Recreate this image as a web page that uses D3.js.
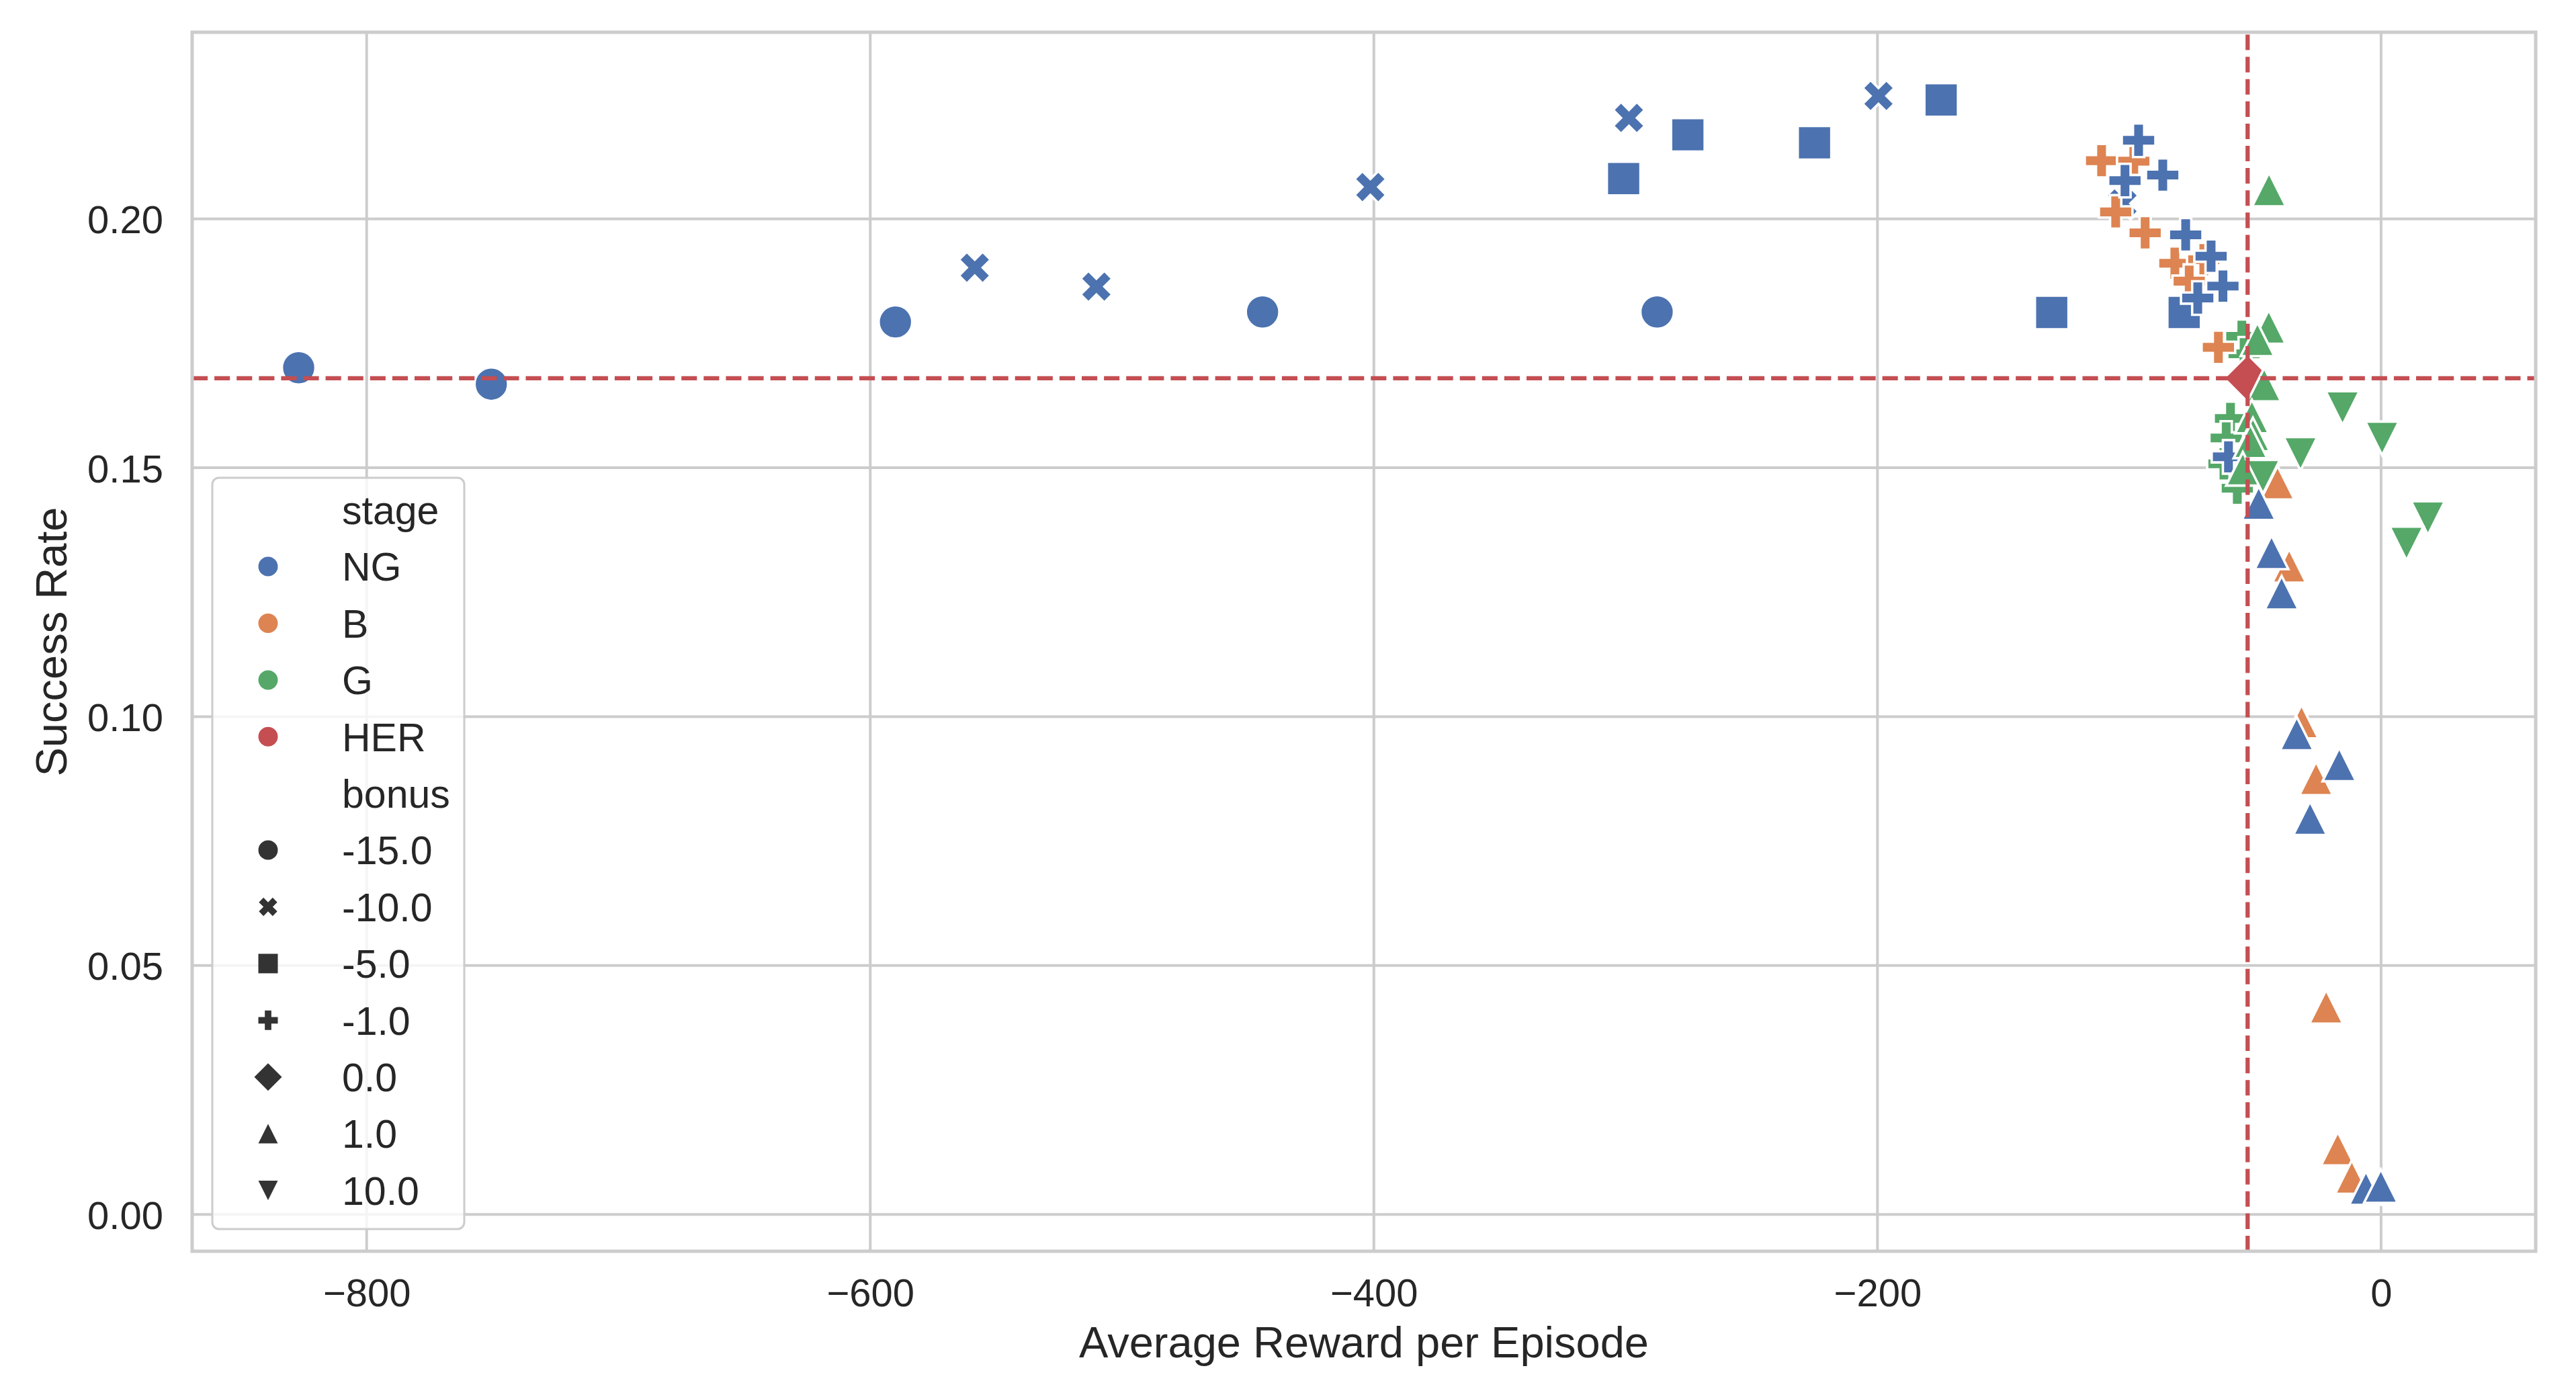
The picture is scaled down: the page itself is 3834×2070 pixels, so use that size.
<!DOCTYPE html>
<html>
<head>
<meta charset="utf-8">
<script src="https://cdn.jsdelivr.net/npm/d3@7"></script>
<style>
  html, body { margin: 0; padding: 0; background: #ffffff; }
  svg { display: block; }
  text { font-family: "Liberation Sans", Arial, "DejaVu Sans", sans-serif; fill: #262626; }
</style>
</head>
<body>
<div id="chart"></div>
<script>
// ---------------- data ----------------
const stages = ["NG", "B", "G", "HER"];
const stageColors = ["#4c72b0", "#dd8452", "#55a868", "#c44e52"];
const bonusLevels = [-15, -10, -5, -1, 0, 1, 10];
const bonusLabels = ["-15.0", "-10.0", "-5.0", "-1.0", "0.0", "1.0", "10.0"];
const bonusMarkers = ["circle", "x", "square", "plus", "diamond", "triUp", "triDown"];

// [average reward per episode, success rate, bonus]
const ngPoints = [
  [-827, 0.1701, -15], [-750.5, 0.1668, -15], [-590, 0.1793, -15], [-444.2, 0.1813, -15], [-287.5, 0.1813, -15],
  [-558.5, 0.1902, -10], [-510.2, 0.1864, -10], [-401.4, 0.2064, -10], [-298.7, 0.2203, -10], [-199.6, 0.2247, -10], [-102.7, 0.2031, -10],
  [-300.8, 0.2081, -5], [-275.3, 0.2169, -5], [-225, 0.2153, -5], [-174.7, 0.2239, -5], [-130.8, 0.1812, -5], [-78.2, 0.1812, -5],
  [-96.3, 0.2158, -1], [-101.7, 0.2077, -1], [-86.7, 0.2088, -1], [-77.6, 0.1968, -1], [-67.5, 0.1925, -1], [-62.8, 0.1865, -1], [-72.8, 0.1841, -1], [-60.6, 0.1522, -1],
  [-48.6, 0.1429, 1], [-43.5, 0.1330, 1], [-39.5, 0.1249, 1], [-33.5, 0.0966, 1], [-16.6, 0.0904, 1], [-28.2, 0.0796, 1], [-6.0, 0.0053, 1], [-0.1, 0.0057, 1]
];
const bPoints = [
  [-111, 0.2117, -1], [-98.2, 0.2116, -1], [-105.4, 0.2014, -1], [-93.7, 0.1972, -1], [-81.9, 0.1911, -1], [-70.4, 0.1918, -1], [-76.2, 0.1875, -1], [-64.6, 0.1742, -1],
  [-41.1, 0.1470, 1], [-36.5, 0.1303, 1], [-31.6, 0.0990, 1], [-25.8, 0.0876, 1], [-21.8, 0.0417, 1], [-17.2, 0.0132, 1], [-11.6, 0.0075, 1]
];
const gPoints = [
  [-55.3, 0.1764, -1], [-54.4, 0.1729, -1], [-59.8, 0.1599, -1], [-61.5, 0.1560, -1], [-62.4, 0.1508, -1], [-57.1, 0.1459, -1],
  [-44.5, 0.2059, 1], [-44.6, 0.1783, 1], [-49.1, 0.1758, 1], [-46.4, 0.1667, 1], [-51.3, 0.1603, 1], [-50.9, 0.1567, 1], [-51.9, 0.1553, 1], [-54.9, 0.1498, 1],
  [-15.3, 0.1620, 10], [0.4, 0.1559, 10], [-32.0, 0.1528, 10], [-46.9, 0.1482, 10], [18.6, 0.1399, 10], [10.1, 0.1348, 10]
];
const herPoints = [[-53, 0.168, 0]];

const xTicks = [-800, -600, -400, -200, 0];
const yTicks = [0.00, 0.05, 0.10, 0.15, 0.20];
const xLimits = [-869.3, 61.4];
const yLimits = [-0.0074, 0.2375];
const xTitle = "Average Reward per Episode";
const yTitle = "Success Rate";

// ---------------- layout ----------------
const W = 3834, H = 2070;
const plot = { left: 286, right: 3774, top: 48, bottom: 1862 };
const TICK_FONT = 58, LABEL_FONT = 65, LEGEND_FONT = 59;
const MS = 50;          // marker size (px)
const EDGE = 3.6;       // white marker edge

const svg = d3.select("#chart").append("svg")
  .attr("width", W).attr("height", H).attr("viewBox", `0 0 ${W} ${H}`);
svg.append("rect").attr("width", W).attr("height", H).attr("fill", "#ffffff");

const x = d3.scaleLinear().domain(xLimits).range([plot.left, plot.right]);
const y = d3.scaleLinear().domain(yLimits).range([plot.bottom, plot.top]);

// marker shapes
function markerPath(kind, ms) {
  const p = d3.path();
  const h = ms / 2;
  const poly = pts => { p.moveTo(pts[0][0], pts[0][1]); pts.slice(1).forEach(q => p.lineTo(q[0], q[1])); p.closePath(); };
  const plusPts = [[-1,-3],[1,-3],[1,-1],[3,-1],[3,1],[1,1],[1,3],[-1,3],[-1,1],[-3,1],[-3,-1],[-1,-1]].map(q => [q[0]*ms/6, q[1]*ms/6]);
  switch (kind) {
    case "circle": p.moveTo(h, 0); p.arc(0, 0, h, 0, 2 * Math.PI); p.closePath(); break;
    case "square": poly([[-h,-h],[h,-h],[h,h],[-h,h]]); break;
    case "plus": poly(plusPts); break;
    case "x": {
      const c = Math.SQRT1_2;
      poly(plusPts.map(q => [(q[0] - q[1]) * c, (q[0] + q[1]) * c]));
      break;
    }
    case "diamond": { const d = ms * Math.SQRT1_2; poly([[0,-d],[d,0],[0,d],[-d,0]]); break; }
    case "triUp": poly([[0,-h],[-h,h],[h,h]]); break;
    case "triDown": poly([[0,h],[-h,-h],[h,-h]]); break;
  }
  return p.toString();
}

// grid
const grid = svg.append("g");
grid.selectAll("line.gx").data(xTicks).join("line")
  .attr("x1", d => x(d)).attr("x2", d => x(d))
  .attr("y1", plot.top).attr("y2", plot.bottom)
  .attr("stroke", "#cccccc").attr("stroke-width", 4);
grid.selectAll("line.gy").data(yTicks).join("line")
  .attr("y1", d => y(d)).attr("y2", d => y(d))
  .attr("x1", plot.left).attr("x2", plot.right)
  .attr("stroke", "#cccccc").attr("stroke-width", 4);

// points (drawn by bonus, then stage order G, B, NG, HER)
const all = [];
[[gPoints, 2], [bPoints, 1], [ngPoints, 0], [herPoints, 3]].forEach(([arr, si]) => {
  arr.forEach((d, i) => all.push({ rx: d[0], sr: d[1], bonus: d[2], stage: si, idx: i }));
});
const stageDrawOrder = [2, 1, 0, 3];
all.sort((a, b) => (bonusLevels.indexOf(a.bonus) - bonusLevels.indexOf(b.bonus))
  || (stageDrawOrder.indexOf(a.stage) - stageDrawOrder.indexOf(b.stage)) || (a.idx - b.idx));

svg.append("g").selectAll("path").data(all).join("path")
  .attr("transform", d => `translate(${x(d.rx)},${y(d.sr)})`)
  .attr("d", d => markerPath(bonusMarkers[bonusLevels.indexOf(d.bonus)], MS))
  .attr("fill", d => stageColors[d.stage])
  .attr("stroke", "#ffffff").attr("stroke-width", EDGE)
  .attr("stroke-linejoin", "miter");

// reference lines at HER result
const ref = svg.append("g");
ref.selectAll("line.v").data(herPoints).join("line")
  .attr("x1", d => x(d[0])).attr("x2", d => x(d[0]))
  .attr("y1", plot.bottom).attr("y2", plot.top)
  .attr("stroke", stageColors[3]).attr("stroke-width", 6.25)
  .attr("stroke-dasharray", "23.1,10");
ref.selectAll("line.h").data(herPoints).join("line")
  .attr("y1", d => y(d[1])).attr("y2", d => y(d[1]))
  .attr("x1", plot.left).attr("x2", plot.right)
  .attr("stroke", stageColors[3]).attr("stroke-width", 6.25)
  .attr("stroke-dasharray", "23.1,10");

// spines
svg.append("rect")
  .attr("x", plot.left).attr("y", plot.top)
  .attr("width", plot.right - plot.left).attr("height", plot.bottom - plot.top)
  .attr("fill", "none").attr("stroke", "#cccccc").attr("stroke-width", 5);

// axes
const fmtX = d => (d < 0 ? "\u2212" : "") + Math.abs(d);
const fmtY = d => d3.format(".2f")(d);
const gx = svg.append("g").attr("transform", `translate(0,${plot.bottom})`)
  .call(d3.axisBottom(x).tickValues(xTicks).tickSize(0).tickFormat(fmtX));
gx.select(".domain").remove();
gx.selectAll("text").attr("y", 82).attr("dy", null)
  .style("font-size", TICK_FONT + "px").attr("fill", "#262626")
  .style("font-family", '"Liberation Sans", Arial, sans-serif');

const gy = svg.append("g").attr("transform", `translate(${plot.left},0)`)
  .call(d3.axisLeft(y).tickValues(yTicks).tickSize(0).tickFormat(fmtY));
gy.select(".domain").remove();
gy.selectAll("text").attr("x", -43).attr("dy", "0.36em")
  .style("font-size", TICK_FONT + "px").attr("fill", "#262626")
  .style("font-family", '"Liberation Sans", Arial, sans-serif');

// axis titles
svg.append("text").attr("x", (plot.left + plot.right) / 2).attr("y", 2020)
  .attr("text-anchor", "middle").style("font-size", LABEL_FONT + "px").text(xTitle);
svg.append("text").attr("transform", `translate(99,${(plot.top + plot.bottom) / 2}) rotate(-90)`)
  .attr("text-anchor", "middle").style("font-size", LABEL_FONT + "px").text(yTitle);

// legend
const legend = svg.append("g");
legend.append("rect").attr("x", 316).attr("y", 711).attr("width", 375).attr("height", 1118)
  .attr("rx", 10).attr("ry", 10)
  .attr("fill", "#ffffff").attr("fill-opacity", 0.8)
  .attr("stroke", "#cccccc").attr("stroke-width", 3);

const legendRows = [];
legendRows.push({ label: "stage", marker: null });
stages.forEach((s, i) => legendRows.push({ label: s, marker: "circle", color: stageColors[i] }));
legendRows.push({ label: "bonus", marker: null });
bonusLabels.forEach((b, i) => legendRows.push({ label: b, marker: bonusMarkers[i], color: "#333333" }));

const rowY = i => 758.7 + i * 84.4;
const lr = legend.selectAll("g.row").data(legendRows).join("g")
  .attr("transform", (d, i) => `translate(0,${rowY(i)})`);
lr.filter(d => d.marker).append("path")
  .attr("transform", "translate(399,0)")
  .attr("d", d => markerPath(d.marker, 29))
  .attr("fill", d => d.color);
lr.append("text").attr("x", 509).attr("dy", "0.36em")
  .style("font-size", LEGEND_FONT + "px")
  .text(d => d.label);
</script>
</body>
</html>
